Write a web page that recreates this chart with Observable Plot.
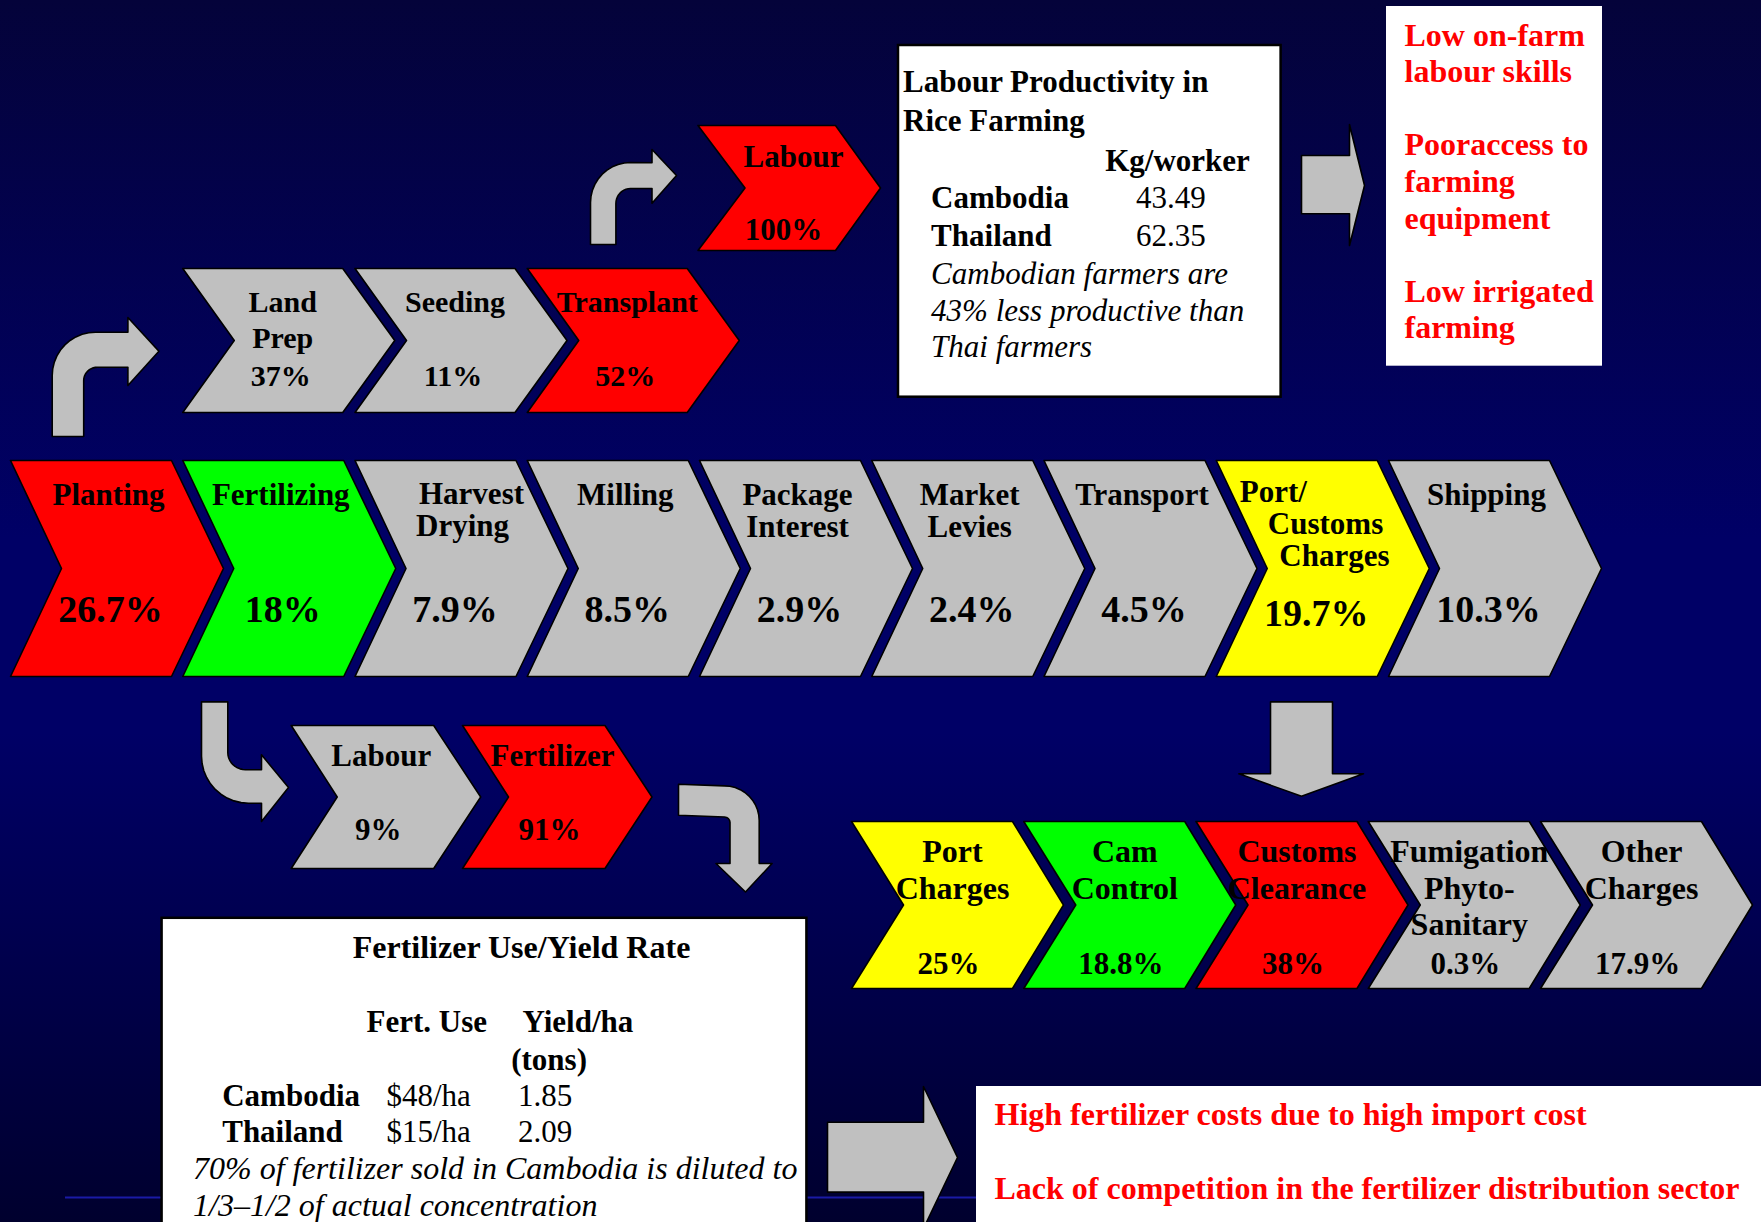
<!DOCTYPE html>
<html><head><meta charset="utf-8">
<script src="https://cdn.jsdelivr.net/npm/d3@7"></script>
<script src="https://cdn.jsdelivr.net/npm/@observablehq/plot@0.6"></script>
<style>
html,body{margin:0;padding:0;background:#000044;}
#chart svg{display:block;}
</style>
</head><body><div id="chart"></div>
<script>
// ================= DATA =================
const mainStages = ["Planting","Fertilizing","Harvest\nDrying","Milling","Package\nInterest","Market\nLevies","Transport","Port/\nCustoms\nCharges","Shipping"];
const mainShares = [26.7, 18, 7.9, 8.5, 2.9, 2.4, 4.5, 19.7, 10.3];
const mainStatus = ["critical","efficient","neutral","neutral","neutral","neutral","neutral","warning","neutral"];

const plantingStages = ["Land\nPrep","Seeding","Transplant"];
const plantingShares = [37, 11, 52];
const plantingStatus = ["neutral","neutral","critical"];

const transplantStages = ["Labour"];
const transplantShares = [100];
const transplantStatus = ["critical"];

const fertilizingStages = ["Labour","Fertilizer"];
const fertilizingShares = [9, 91];
const fertilizingStatus = ["neutral","critical"];

const portStages = ["Port\nCharges","Cam\nControl","Customs\nClearance","Fumigation\nPhyto-\nSanitary","Other\nCharges"];
const portShares = [25, 18.8, 38, 0.3, 17.9];
const portStatus = ["warning","efficient","critical","neutral","neutral"];

const labourTitle = ["Labour Productivity in","Rice Farming"];
const labourUnit = "Kg/worker";
const labourCountries = ["Cambodia","Thailand"];
const labourValues = [43.49, 62.35];
const labourNote = ["Cambodian farmers are","43% less productive than","Thai farmers"];
const labourIssues = [["Low on-farm","labour skills"],["Pooraccess to","farming","equipment"],["Low irrigated","farming"]];

const fertTitle = "Fertilizer Use/Yield Rate";
const fertHeaders = ["Fert. Use","Yield/ha","(tons)"];
const fertCountries = ["Cambodia","Thailand"];
const fertUse = [48, 15];
const fertYield = [1.85, 2.09];
const fertNote = ["70% of fertilizer sold in Cambodia is diluted to","1/3\u20131/2 of actual concentration"];
const fertIssues = ["High fertilizer costs due to high import cost","Lack of competition in the fertilizer distribution sector"];

// ================= STYLE / LAYOUT =================
const SERIF = '"Liberation Serif","Times New Roman",Times,serif';
const statusDomain = ["critical","efficient","warning","neutral"];
const statusColors = ["#ff0000","#00ff00","#ffff00","#c0c0c0"];
const ARROW = "#c0c0c0";
const PITCH = 172.25, ORIGIN = 10;          // one stage column = 172.25 px
const cx = px => (px - ORIGIN) / PITCH;       // layout px -> column units
const dx = px => px / PITCH;
const pctFmt = v => `${v}%`;

const rows = [
  {stages: mainStages, shares: mainShares, status: mainStatus,
   x0: i => i, W: dx(161), T: dx(52), N: dx(51), y0: 460, y1: 676,
   lab: {dx: dx(98), y: 504, gap: 32, size: 31}, pct: {dx: dx(100), y: 621, size: 38},
   // stair-stepped, left-aligned label lines for some stages (offsets from stage's left edge)
   stepped: {2: {dxs: [dx(64), dx(61)], ys: [503, 535]}, 7: {dxs: [dx(23.5), dx(51.6), dx(63)], ys: [501, 533, 565]}},
   pctY: {7: 625}},
  {stages: plantingStages, shares: plantingShares, status: plantingStatus,
   x0: i => 1 + i, W: dx(160), T: dx(52), N: dx(51.5), y0: 268, y1: 412,
   lab: {dx: dx(100), y: 311.7, gap: 36, size: 30}, pct: {dx: dx(98), y: 385, size: 30}},
  {stages: transplantStages, shares: transplantShares, status: transplantStatus,
   x0: i => cx(697.5), W: dx(137.5), T: dx(45), N: dx(47), y0: 125, y1: 250,
   lab: {dx: dx(95.5), y: 166.7, gap: 0, size: 31}, pct: {dx: dx(85.5), y: 239, size: 31}},
  {stages: fertilizingStages, shares: fertilizingShares, status: fertilizingStatus,
   x0: i => cx(290.7) + i * dx(171.3), W: dx(142.5), T: dx(47), N: dx(46), y0: 725, y1: 868,
   lab: {dx: dx(90), y: 765.7, gap: 0, size: 31}, pct: {dx: dx(87), y: 839.7, size: 31}},
  {stages: portStages, shares: portShares, status: portStatus,
   x0: i => cx(851) + i, W: dx(161), T: dx(51), N: dx(52), y0: 821, y1: 988,
   lab: {dx: dx(101), y: 861.5, gap: 36.5, size: 32}, pct: {dx: dx(97), y: 973.8, size: 31}}
];

// chevron polygons
const chevrons = [];
const chevLabels = {};   // keyed by font size
const chevPcts = {};
const steppedLabels = [];
const push = (obj, k, v) => (obj[k] = obj[k] || []).push(v);
rows.forEach((r, ri) => {
  r.stages.forEach((s, i) => {
    const x0 = r.x0(i), ym = (r.y0 + r.y1) / 2, id = `c${ri}-${i}`;
    [[x0, r.y0], [x0 + r.W, r.y0], [x0 + r.W + r.T, ym], [x0 + r.W, r.y1], [x0, r.y1], [x0 + r.N, ym]]
      .forEach(([x, y]) => chevrons.push({id, x, y, status: r.status[i]}));
    const st = r.stepped && r.stepped[i];
    s.split("\n").forEach((line, j) => {
      if (st) steppedLabels.push({x: x0 + st.dxs[j], y: st.ys[j], t: line, s: r.lab.size});
      else push(chevLabels, r.lab.size, {x: x0 + r.lab.dx, y: r.lab.y + j * r.lab.gap, t: line});
    });
    const py = (r.pctY && r.pctY[i]) || r.pct.y;
    push(chevPcts, r.pct.size, {x: x0 + r.pct.dx, y: py, t: pctFmt(r.shares[i])});
  });
});

// block arrows (layout px geometry)
function arc(ccx, ccy, rx, ry, a0, a1, n = 10) {
  const out = [];
  for (let k = 0; k <= n; k++) { const a = a0 + (a1 - a0) * k / n; out.push([ccx + rx * Math.cos(a), ccy + ry * Math.sin(a)]); }
  return out;
}
const P = Math.PI;
const arrowShapes = [
  [[51.7,436],[51.7,375], ...arc(95,375,43.3,43.3,P,1.5*P), [127.4,331.7],[127.4,317],[158.4,350.7],[127.4,385],[127.4,366.7], ...arc(97,380,13.8,13.3,1.5*P,P), [83.2,436]],
  [[590,244],[590,202], ...arc(630,202,40,40,P,1.5*P), [651.5,162.3],[651.5,149],[676,175],[651.5,202.7],[651.5,188], ...arc(630,203,14.6,15,1.5*P,P), [615.4,244]],
  [[201,701.4],[227.3,701.4],[227.3,752], ...arc(245,752,17.7,17.2,P,0.5*P), [261,769.2],[261,754.3],[288,787],[261,821],[261,802.7], ...arc(248,755.7,47,47,0.5*P,P)],
  [[678,783.7], ...arc(724,820,34.7,34.6,1.5*P,2*P), [758.7,863],[771.6,863],[745,891.5],[715.5,863],[729.5,863], ...arc(724,822,5.5,5.5,0,-0.5*P,4), [678,814.8]],
  [[1270,701.4],[1332,701.4],[1332,773.3],[1363,773.3],[1301,795.8],[1238.4,773.3],[1270,773.3]],
  [[1301,155],[1349,155],[1349,124],[1364,185],[1349,245],[1349,213.3],[1301,213.3]],
  [[827,1121.7],[923,1121.7],[923,1086],[957,1157],[923,1228],[923,1191.6],[827,1191.6]]
];
const arrows = arrowShapes.flatMap((pts, k) => pts.map(([x, y]) => ({id: `a${k}`, x: cx(x), y})));

// boxes
const framedBoxes = [
  {x1: cx(898), x2: cx(1280.6), y1: 45, y2: 396.7},
  {x1: cx(161.6), x2: cx(806.4), y1: 917.8, y2: 1240}
];
const plainBoxes = [
  {x1: cx(1386), x2: cx(1602), y1: 6, y2: 365.7},
  {x1: cx(976), x2: cx(1770), y1: 1086, y2: 1240}
];

// box texts
const boldStart = [], regStart = [], italStart = [], redStart = [], boldMid = [];
labourTitle.forEach((t, j) => boldStart.push({x: cx(902.5), y: 91.7 + j * 38.3, t, s: 31}));
boldStart.push({x: cx(1104.7), y: 170.7, t: labourUnit, s: 31});
labourCountries.forEach((t, i) => {
  boldStart.push({x: cx(930.6), y: 207.3 + i * 37.7, t, s: 31});
  regStart.push({x: cx(1135.6), y: 207.3 + i * 37.7, t: labourValues[i].toFixed(2), s: 31});
});
labourNote.forEach((t, j) => italStart.push({x: cx(930.6), y: 283.3 + j * 36.7, t, s: 31}));
let k = 0;
labourIssues.forEach(group => { group.forEach(t => { redStart.push({x: cx(1404), y: 45 + k * 36.6, t}); k++; }); k++; });
boldMid.push({x: cx(521), y: 957, t: fertTitle});
boldStart.push({x: cx(366), y: 1031, t: fertHeaders[0], s: 31});
boldStart.push({x: cx(522), y: 1031, t: fertHeaders[1], s: 31});
boldStart.push({x: cx(510.7), y: 1069, t: fertHeaders[2], s: 31});
fertCountries.forEach((t, i) => {
  boldStart.push({x: cx(221.7), y: 1105 + i * 36.5, t, s: 31});
  regStart.push({x: cx(386), y: 1105 + i * 36.5, t: `$${fertUse[i]}/ha`, s: 31});
  regStart.push({x: cx(517.4), y: 1105 + i * 36.5, t: fertYield[i].toFixed(2), s: 31});
});
fertNote.forEach((t, j) => italStart.push({x: cx(192.5), y: 1178.8 + j * 37, t, s: 32}));
fertIssues.forEach((t, i) => redStart.push({x: cx(994), y: 1124 + i * 74.5, t}));

function txt(data, o) {
  return Plot.text(data, {x: "x", y: "y", text: "t", lineAnchor: "bottom",
    textAnchor: o.anchor || "middle", fontSize: o.size || "s", fontWeight: o.weight || "bold",
    fontStyle: o.style || "normal", fontFamily: SERIF, fill: o.color || "#000"});
}

const marks = [
  Plot.ruleY([{y: 1197, x1: cx(65), x2: cx(1761)}], {y: "y", x1: "x1", x2: "x2", stroke: "#1a1aa6", strokeWidth: 2}),
  Plot.rect(plainBoxes, {x1: "x1", x2: "x2", y1: "y1", y2: "y2", fill: "#ffffff"}),
  Plot.rect(framedBoxes, {x1: "x1", x2: "x2", y1: "y1", y2: "y2", fill: "#ffffff", stroke: "#000", strokeWidth: 2.5}),
  Plot.line(arrows, {x: "x", y: "y", z: "id", fill: ARROW, stroke: "#000", strokeWidth: 1.6, curve: "linear-closed"}),
  Plot.line(chevrons, {x: "x", y: "y", z: "id", fill: "status", stroke: "#000", strokeWidth: 1.6, curve: "linear-closed"}),
  ...Object.entries(chevLabels).map(([s, d]) => txt(d, {size: +s})),
  txt(steppedLabels, {anchor: "start"}),
  ...Object.entries(chevPcts).map(([s, d]) => txt(d, {size: +s})),
  txt(boldStart, {anchor: "start"}),
  txt(regStart, {anchor: "start", weight: "normal"}),
  txt(italStart, {anchor: "start", weight: "normal", style: "italic"}),
  txt(redStart, {anchor: "start", size: 32, color: "#ff0000"}),
  txt(boldMid, {size: 32})
];

const chart = Plot.plot({
  width: 1761, height: 1222,
  margin: 0,
  x: {type: "linear", domain: [cx(0), cx(1761)], range: [0, 1761], axis: null},
  y: {type: "linear", domain: [0, 1222], range: [0, 1222], axis: null},
  color: {domain: statusDomain, range: statusColors},
  style: {background: "linear-gradient(180deg, #04033a 0%, #000066 44%, #000066 60%, #00002e 100%)", fontFamily: SERIF},
  marks
});
document.getElementById("chart").appendChild(chart);
</script>
</body></html>
